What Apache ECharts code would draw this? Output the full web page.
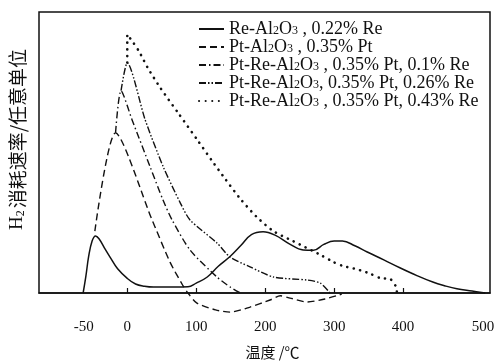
<!DOCTYPE html>
<html>
<head>
<meta charset="utf-8">
<script src="https://cdn.jsdelivr.net/npm/echarts@6/dist/echarts.min.js"></script>
<style>
  html, body { margin: 0; padding: 0; background: #fff; }
  #chart { width: 498px; height: 362px; }
</style>
</head>
<body>
<div id="chart"></div>
<script>
// 温度 (℃) 与 H2 消耗速率 (任意单位)
var reTemp = [-64, -60, -56, -51, -46, -41, -33, -25, -14, 0, 12, 25, 38, 70, 88, 100, 116, 132, 149, 165, 180, 197, 215, 235, 255, 270, 285, 300, 312, 330, 348, 372, 396, 420, 443, 460, 478, 500, 519];
var reRate = [0, 6, 13, 18.5, 20.3, 19.3, 16, 12.8, 8.6, 5.2, 3.2, 2.4, 2.1, 2.1, 2.2, 3.5, 5.7, 9.5, 13, 17, 20.8, 21.8, 20.5, 17.5, 15.3, 15.2, 17.3, 18.5, 18.5, 16.8, 14.6, 11.8, 8.9, 6.2, 3.9, 2.6, 1.5, 0.7, 0];

var ptTemp = [-47, -17, 36, 62, 81, 88, 101, 128, 149, 178, 207, 222, 236, 261, 287, 311];
var ptRate = [22, 57, 26, 11, 2.5, 0, -3.6, -6, -6.8, -5, -2.5, -1, -1.8, -3.2, -2.1, -0.4];

var re010Temp = [-17, -9, 7, 33, 52, 65, 91, 130, 150, 164];
var re010Rate = [57, 72, 61.6, 45, 33, 26, 15.3, 5.7, 2, 0];

var re026Temp = [-9, 0, 26, 52, 77, 91, 130, 149, 178, 212, 261, 280, 294];
var re026Rate = [72, 81.9, 61.6, 45, 32, 26, 17.8, 12.8, 9.3, 5.7, 4.6, 3.5, 0];

var re043Temp = [0, 0, 9, 17, 30, 48, 74, 103, 123, 142, 164, 188, 212, 240, 283, 299, 313, 332, 351, 367, 381, 390, 391];
var re043Rate = [82, 92, 89, 86, 80, 73, 64, 54, 47, 40.6, 33.5, 27, 22, 18.5, 13.2, 11, 9.6, 8.5, 7, 5.3, 5, 2.1, 0];

var tickValues = [0, 100, 200, 300, 400];
var labelValues = [-50, 0, 100, 200, 300, 400, 500];

var seriesNames = ['Re-Al2O3', 'Pt-Al2O3', 'Pt-Re-0.1', 'Pt-Re-0.26', 'Pt-Re-0.43'];
var legendText = {
    'Re-Al2O3': '{n|Re-Al}{s|2}{n|O}{s|3}{n| , 0.22% Re}',
    'Pt-Al2O3': '{n|Pt-Al}{s|2}{n|O}{s|3}{n| , 0.35% Pt}',
    'Pt-Re-0.1': '{n|Pt-Re-Al}{s|2}{n|O}{s|3}{n| , 0.35% Pt, 0.1% Re}',
    'Pt-Re-0.26': '{n|Pt-Re-Al}{s|2}{n|O}{s|3}{n|, 0.35% Pt, 0.26% Re}',
    'Pt-Re-0.43': '{n|Pt-Re-Al}{s|2}{n|O}{s|3}{n| , 0.35% Pt, 0.43% Re}'
};

function pairs(xs, ys) {
    return xs.map(function (x, i) { return [x, ys[i]]; });
}

var serif = 'Liberation Serif';
var cjk = 'Noto Sans CJK SC';
var ink = '#111';

var chart = echarts.init(document.getElementById('chart'));

function line(name, data, type, width, smooth, cap) {
    return {
        name: name,
        type: 'line',
        data: data,
        symbol: 'none',
        smooth: smooth,
        clip: false,
        silent: true,
        itemStyle: { color: ink },
        lineStyle: { color: ink, width: width, type: type, cap: cap || 'butt' }
    };
}

var option = {
    backgroundColor: '#fff',
    animation: false,
    grid: {
        left: 39, right: 8, top: 12, bottom: 69,
        outerBoundsMode: 'none',
        show: true, borderColor: ink, borderWidth: 1.5, backgroundColor: 'transparent'
    },
    legend: {
        orient: 'vertical',
        left: 198,
        top: 20,
        padding: 0,
        itemWidth: 25,
        itemHeight: 12,
        itemGap: 0,
        data: seriesNames,
        itemStyle: { opacity: 0 },
        formatter: function (name) { return legendText[name]; },
        textStyle: {
            color: ink,
            rich: {
                n: { fontFamily: serif, fontSize: 18, color: ink, lineHeight: 16 },
                s: { fontFamily: serif, fontSize: 12, color: ink, lineHeight: 12, verticalAlign: 'bottom', padding: [5, 0, 0, 0] }
            }
        }
    },
    xAxis: {
        type: 'value',
        min: -128,
        max: 526,
        name: '温度 /℃',
        nameLocation: 'middle',
        nameGap: 52,
        nameTextStyle: { fontFamily: cjk, fontSize: 15, color: ink, padding: [0, 0, 0, 16] },
        splitLine: { show: false },
        axisLine: { lineStyle: { color: ink, width: 1.5 } },
        axisTick: { inside: true, length: 5, customValues: tickValues, lineStyle: { color: ink, width: 1.2 } },
        axisLabel: {
            customValues: labelValues,
            margin: 27,
            color: ink,
            fontFamily: serif,
            fontSize: 15,
            formatter: function (v) {
                if (v === -50) return '{l|' + v + '}';
                if (v === 500) return '{r|' + v + '}';
                return String(v);
            },
            rich: {
                l: { fontFamily: serif, fontSize: 15, color: ink, padding: [0, 18, 0, 0] },
                r: { fontFamily: serif, fontSize: 15, color: ink, padding: [0, 0, 0, 22] }
            }
        }
    },
    yAxis: {
        type: 'value',
        min: 0,
        max: 100,
        name: '{a|H}{s|2}{c|消耗速率/任意单位}',
        nameLocation: 'middle',
        nameGap: 12,
        nameRotate: 90,
        nameTextStyle: {
            padding: [0, 0, 0, 26],
            rich: {
                a: { fontFamily: serif, fontSize: 19, color: ink },
                s: { fontFamily: serif, fontSize: 12, color: ink, padding: [7, 2, 0, 0] },
                c: { fontFamily: cjk, fontSize: 19, color: ink }
            }
        },
        axisLine: { show: false },
        axisTick: { show: false },
        axisLabel: { show: false },
        splitLine: { show: false }
    },
    series: [
        line('Re-Al2O3', pairs(reTemp, reRate), 'solid', 1.5, 0.4),
        line('Pt-Al2O3', pairs(ptTemp, ptRate), [7, 4], 1.4, 0.25),
        line('Pt-Re-0.1', pairs(re010Temp, re010Rate), [7, 3, 1.5, 3], 1.4, 0.25),
        line('Pt-Re-0.26', pairs(re026Temp, re026Rate), [7, 2, 1.5, 2, 1.5, 2], 1.4, 0.25),
        line('Pt-Re-0.43', pairs(re043Temp, re043Rate), [0.1, 6.5], 2.6, 0.25, 'round')
    ]
};

chart.setOption(option);
</script>
</body>
</html>
